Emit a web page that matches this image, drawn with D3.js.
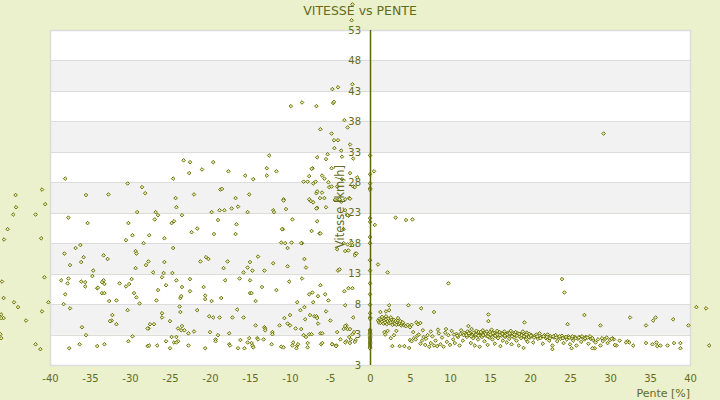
<!DOCTYPE html>
<html><head><meta charset="utf-8">
<script src="https://cdn.jsdelivr.net/npm/d3@7"></script>
<style>
html,body{margin:0;padding:0;background:#ebf0cd;}
svg{display:block;font-family:"DejaVu Sans",sans-serif;}
</style></head>
<body><svg id="c" width="720" height="400"></svg>
<script>
const chartTitle = "VITESSE vs PENTE";
const xTitle = "Pente [%]";
const yTitle = "Vitesse [km/h]";
const xTickVals = [-40,-35,-30,-25,-20,-15,-10,-5,0,5,10,15,20,25,30,35,40];
const yTickVals = [-2,3,8,13,18,23,28,33,38,43,48,53];
const yTickLabels = ["3","3","8","13","18","23","28","33","38","43","48","53"];

// [pente %, vitesse km/h] — descents
const descentPts = [
[-2.2,57.2],[-2.3,54.6],[-9.9,40.5],[-8.5,41.1],[-6.7,40.5],[-4.7,43.3],[-4.0,43.6],[-2.2,44.1],[-4.6,41.0],[-4.5,41.2],[-3.2,38.2],[-2.8,37.0],[-6.2,36.7],[-4.8,36.0],[-4.5,34.9],[-4.0,34.9],[-2.5,34.2],[-4.45,33.6],[-3.6,33.2],[-3.5,32.2],[-2.1,31.9],[-6.6,32.1],[-5.3,32.6],[-5.5,31.8],[-7.2,30.3],[-7.3,30.2],[-7.6,29.0],[-8.3,28.1],[-7.8,28.1],[-7.1,27.8],[-6.8,28.1],[-6.0,29.1],[-5.7,28.6],[-5.2,28.0],[-4.8,30.3],[-5.1,27.2],[-4.8,27.3],[-4.1,27.3],[-3.5,28.5],[-2.5,29.5],[-1.6,28.8],[-2.1,27.3],[-1.9,27.2],[-6.7,26.2],[-6.6,26.5],[-6.0,26.3],[-5.7,25.4],[-4.0,25.2],[-3.8,25.2],[-2.6,25.4],
[-38.1,28.6],[-41.0,26.8],[-44.3,25.9],[-35.5,25.9],[-32.7,26.0],[-30.3,27.8],[-28.5,27.2],[-28.1,26.2],[-24.6,28.6],[-23.3,31.6],[-22.5,31.3],[-22.6,29.5],[-21.0,30.1],[-19.6,31.3],[-17.7,29.8],[-15.6,29.1],[-14.6,28.5],[-12.9,30.3],[-12.6,32.4],[-11.7,29.8],[-12.9,29.1],[-18.7,26.8],[-18.5,26.9],[-22.0,26.0],[-24.3,25.4],[-16.8,25.4],[-15.1,26.0],[-10.8,25.2],
[-10.5,23.6],[-9.7,21.9],[-10.9,20.3],[-7.3,20.0],[-6.6,21.6],[-7.6,25.2],[-7.4,24.9],[-7.1,24.7],[-6.25,25.4],[-6.6,23.8],[-5.5,23.9],[-4.4,25.1],[-3.6,24.8],[-3.1,25.2],[-2.5,25.3],[-3.1,23.4],[-2.9,22.7],[-2.7,22.5],[-6.3,19.6],[-10.6,18.0],[-9.8,18.1],[-8.5,18.0],
[-3.3,20.3],[-2.8,22.6],[-4.1,17.0],[-3.3,18.0],[-2.8,17.8],[-2.3,18.1],[-2.2,17.7],[-3.1,16.7],[-2.7,16.8],[-1.8,16.3],[-1.9,16.0],[-1.7,16.3],[-4.0,13.5],[-3.8,13.7],
[-44.25,23.9],[-44.6,22.7],[-41.8,22.7],[-40.6,24.4],[-37.7,22.2],[-45.3,20.3],[-45.75,18.6],[-41.1,18.8],[-35.3,21.3],[-29.1,23.1],[-30.2,21.3],[-26.8,23.1],[-26.5,22.6],[-26.9,21.9],[-24.2,23.9],[-23.5,22.6],[-24.8,21.3],[-24.5,21.6],[-19.8,23.1],[-18.8,23.4],[-18.2,23.4],[-17.3,23.7],[-16.5,24.0],[-15.3,23.1],[-12.1,23.4],[-12.0,23.1],[-10.8,25.0],[-6.7,23.7],[-19.0,21.8],[-16.7,21.1],[-16.8,19.5],[-11.0,20.3],[-6.2,19.6],
[-38.2,16.3],[-36.8,17.2],[-36.2,17.7],[-36.1,14.9],[-35.8,15.7],[-37.5,14.4],[-34.6,13.5],[-34.7,12.6],[-33.3,16.0],[-32.8,15.4],[-30.5,18.5],[-29.7,19.3],[-29.3,16.7],[-29.2,16.3],[-28.3,18.0],[-27.6,19.3],[-27.7,15.0],[-28.0,14.4],[-29.3,13.9],[-27.1,13.2],[-25.7,18.8],[-24.6,17.2],[-25.7,14.9],[-25.8,13.1],[-24.7,13.1],[-22.3,19.8],[-21.6,20.4],[-21.2,15.0],[-20.5,15.7],[-20.2,15.4],[-19.5,19.5],[-17.8,15.0],[-18.3,13.9],[-15.8,13.2],[-15.0,14.9],[-15.3,14.0],[-14.7,13.5],[-14.0,15.8],[-13.2,13.5],[-12.1,14.7],[-10.3,17.2],[-10.3,14.2],[-11.1,18.1],[-8.6,18.0],[-8.2,15.4],[-8.0,14.0],[-8.5,12.2],[-10.1,11.7],[-11.7,10.3],[-13.5,10.8],[-15.0,9.8],[-14.8,9.8],[-14.3,8.5],[-15.0,11.9],[-16.3,12.2],[-18.1,11.9],[-18.6,9.0],[-20.8,10.8],[-20.6,9.4],[-20.6,8.8],[-19.8,8.5],[-22.5,12.1],[-22.5,10.1],[-23.5,10.8],[-23.7,9.0],[-23.6,9.3],[-23.8,7.6],[-23.7,6.7],[-24.2,11.9],[-25.5,11.1],[-26.5,10.3],[-26.7,8.6],[-26.0,12.4],[-26.0,6.5],[-26.0,5.8],[-25.0,5.2],[-27.5,4.7],[-27.0,4.7],[-27.7,4.0],[-29.5,9.8],[-29.2,9.1],[-28.8,8.1],[-29.8,12.1],[-30.1,11.3],[-30.5,10.9],[-31.3,11.4],[-31.7,8.6],[-32.6,8.5],[-33.5,9.8],[-33.2,9.8],[-34.1,10.6],[-33.3,11.9],[-33.5,11.6],[-33.2,11.3],[-34.0,10.7],[-35.6,11.6],[-35.6,10.9],[-36.1,11.7],[-37.7,12.2],[-37.8,11.4],[-38.1,9.6],[-38.3,8.0],[-37.5,7.3],[-38.6,11.9],[-40.7,12.4],[-40.2,8.3],[-41.0,6.8],[-46.0,11.7],[-45.8,9.0],[-44.5,8.3],[-44.0,7.5],[-45.8,5.7],[-46.1,6.3],[-46.1,5.7],[-43.0,5.3],[-46.2,3.05],[-46.1,2.4],[-41.8,1.4],[-41.2,0.6],
[-30.3,7.0],[-32.2,6.2],[-32.3,5.3],[-32.5,5.2],[-31.7,4.7],[-36.0,4.2],[-35.5,2.9],[-36.3,1.4],[-37.6,0.75],[-34.1,1.1],[-33.2,1.4],[-30.2,1.9],[-29.7,2.7],[-27.8,4.0],[-27.8,1.1],[-27.6,1.2],[-26.6,1.2],[-25.5,1.9],[-25.0,0.75],[-24.8,2.6],[-24.2,2.6],[-24.5,1.7],[-24.0,1.9],[-24.2,1.7],[-24.0,4.0],[-23.5,4.4],[-23.2,3.7],[-23.6,3.7],[-22.7,3.2],[-22.0,3.5],[-22.7,1.2],[-21.6,7.0],[-20.6,0.75],[-20.1,6.0],[-19.6,5.8],[-18.8,5.8],[-20.0,3.4],[-19.3,2.2],[-19.3,1.9],[-19.0,2.9],[-17.6,3.2],[-17.6,1.4],[-17.5,1.2],[-17.2,5.8],[-16.6,7.1],[-16.2,2.1],[-16.5,0.75],[-15.8,5.8],[-15.7,0.75],[-15.3,1.7],[-15.1,2.4],[-14.8,1.6],[-14.7,1.2],[-14.6,0.9],[-14.3,4.5],[-14.1,2.4],[-14.0,2.2],[-13.3,2.2],[-13.2,4.2],[-13.1,4.0],[-13.1,3.7],[-12.3,1.4],[-12.2,3.4],[-12.2,3.05],[-11.3,4.5],[-11.1,1.0],[-10.8,0.9],[-10.7,5.7],[-10.3,4.8],[-10.0,4.5],[-10.0,6.2],[-9.6,1.7],[-9.7,1.2],[-9.3,4.0],[-9.2,0.75],[-9.1,1.2],[-9.0,1.4],[-9.1,8.3],[-8.7,7.0],[-8.6,3.9],[-8.2,7.5],[-8.3,2.9],[-8.0,2.6],[-8.1,5.5],[-7.8,1.6],[-7.8,0.9],[-7.6,3.05],[-7.3,3.05],[-7.5,6.2],[-7.6,9.6],[-7.2,9.9],[-7.1,8.3],[-6.96,6.0],[-6.7,6.0],[-6.6,5.7],[-6.5,4.8],[-6.2,11.1],[-6.5,9.3],[-6.2,3.2],[-5.96,3.2],[-6.1,1.4],[-5.96,1.6],[-5.6,9.6],[-5.5,6.8],[-5.2,8.6],[-4.96,5.3],[-4.7,1.4],[-4.2,1.2],[-4.1,3.4],[-3.2,10.1],[-3.1,7.8],[-2.7,10.6],[-2.2,10.6],[-3.7,2.2],[-2.96,4.5],[-3.1,4.4],[-3.3,3.9],[-2.8,3.9],[-2.5,3.9],[-2.2,3.05],[-2.0,3.4],[-1.8,2.1],[-2.5,1.6],[-2.96,1.9],[-3.1,1.7],[-2.6,2.6],[-2.1,5.8],[-2.4,2.2],[-1.9,1.8],[-4.25,1.1],[-4.75,1.4]
];

// points sitting on the zero-slope line
const flatPts = [
[0,32.4],[0,29.3],[0,27.8],[0,27.0],[0,26.8],[0,22.1],[0,21.5],[0,19.0],[0,18.0],[0,15.2],[0,13.5],[0,11.4],[0,9.6],[0,7.9],[0,6.5],[0,5.8],[0,5.6],[0,3.8],[0,3.6],[0,3.4],[0,3.2],[0,3.0],[0,2.7],[0,2.5],[0,2.3],[0,2.1],[0,1.9],[0,1.7],[0,1.5],[0,1.3],[0,1.1],[0,0.9],[0,0.75]
];

// climbs — sparse points
const climbPts = [
[0.5,29.8],[3.2,22.2],[4.5,21.8],[5.3,21.9],[0.6,21.0],[1.0,14.5],[2.2,13.2],[9.8,11.4],[24.0,12.1],[24.3,9.9],[29.2,36.0],
[4.8,7.8],[2.4,7.8],[6.4,7.3],[8.0,6.7],[1.3,6.7],[2.0,6.8],[2.4,7.0],[14.8,6.3],[14.8,5.2],[19.3,5.0],[26.8,6.2],[28.8,4.5],[32.5,5.8],[24.7,4.7],[34.5,4.5],[35.4,5.3],[35.7,5.8],[37.9,5.5],[39.8,4.5],[40.8,7.5],[42.0,7.3],[42.4,1.2],[22.8,0.6],[25.2,0.75],[28.1,0.75],[27.8,0.75],[30.8,1.2],[32.9,1.2],[34.5,1.6],[35.3,1.4],[35.8,1.7],[35.9,1.1],[36.3,1.2],[37.2,1.2],[38.0,1.6],[38.8,1.6],[38.8,0.75],[32.2,1.9],[32.4,1.7],[32.0,1.7],[30.5,2.2]
];

// climbs — dense band
const climbBand = [
[1.0,5.3],[1.1,5.0],[1.2,5.6],[1.3,4.9],[1.4,5.4],[1.5,5.1],[1.6,5.7],[1.7,4.8],[1.8,5.3],[1.9,5.0],[2.0,5.5],[2.1,4.7],[2.2,5.2],[2.3,5.6],[2.4,4.9],[2.5,5.3],[2.6,5.0],[2.7,5.5],[2.8,4.6],[2.9,5.1],[3.0,5.4],[3.1,4.8],[3.2,5.2],[3.3,4.6],[3.4,5.0],[3.5,5.3],[3.6,4.7],[3.7,4.9],[3.8,5.2],[3.9,4.5],[4.0,4.8],[4.1,5.0],[4.3,4.5],[4.5,4.4],[4.7,4.6],[5.0,4.2],[1.5,5.9],[2.0,6.0],[2.6,5.8],[3.5,5.7],[5.8,5.0],[6.0,4.7],[6.3,4.9],[5.2,4.6],
[1.8,3.4],[1.9,3.0],[2.2,3.6],[2.6,2.4],[3.0,2.9],[3.3,3.6],[2.8,1.1],[3.7,1.1],[4.3,1.1],[4.9,0.8],[5.0,2.1],[5.2,1.9],[5.5,2.4],[5.7,2.2],[5.9,2.8],[6.1,3.0],[6.3,1.5],[6.5,2.0],[6.7,2.6],[6.9,1.3],[7.0,2.3],[7.2,2.9],[7.4,1.0],[7.6,1.6],[7.8,2.7],[8.0,1.2],[8.2,2.0],[8.4,1.1],[8.6,3.2],[8.8,1.4],[9.0,2.5],[9.2,1.0],[9.4,3.3],[9.6,1.8],[9.8,2.9],[10.0,1.3],[10.2,3.6],[10.4,2.2],[10.6,1.6],[10.8,3.1],[5.4,3.4],[6.6,3.7],[7.6,3.5],[8.5,3.8],[9.5,3.9],[11.0,2.6],[11.2,1.2],[11.4,3.7],[11.6,2.0],[11.8,3.3],
[12.0,3.1],[12.1,2.6],[12.2,3.5],[12.3,4.4],[12.4,2.9],[12.5,3.3],[12.6,1.6],[12.7,3.9],[12.8,3.0],[12.9,2.4],[13.0,3.2],[13.1,1.2],[13.2,2.8],[13.3,3.6],[13.4,3.0],[13.5,2.2],[13.6,3.4],[13.7,1.0],[13.8,2.9],[13.9,3.2],[14.0,2.6],[14.1,3.7],[14.2,3.0],[14.3,1.9],[14.4,3.3],[14.5,2.8],[14.6,3.5],[14.7,1.3],[14.8,3.1],[14.9,2.5],[15.0,3.4],[15.1,2.9],[15.2,3.8],[15.3,2.2],[15.4,3.0],[15.5,3.3],[15.6,1.5],[15.7,2.7],[15.8,3.1],[15.9,3.6],[16.0,2.4],[16.1,3.0],[16.2,3.4],[16.3,1.1],[16.4,2.8],[16.5,3.2],[16.6,2.0],[16.7,3.0],[16.8,3.5],[16.9,2.6],[17.0,3.1],[17.1,1.7],[17.2,2.9],[17.3,3.3],[17.4,2.3],[17.5,3.0],[17.6,3.6],[17.7,1.4],[17.8,2.8],[17.9,3.2],[18.0,2.5],[18.1,3.0],[18.2,3.4],[18.3,2.0],[18.4,2.9],[18.5,3.2],[18.6,1.2],[18.7,2.7],[18.8,3.1],[18.9,2.4],[19.0,2.9],[19.1,3.5],[19.2,0.8],[19.3,2.6],[19.4,3.0],[19.5,2.2],[19.6,3.3],[19.7,1.8],[19.8,2.8],[19.9,3.1],[20.0,2.5],[20.2,2.9],[20.4,1.7],[20.6,2.7],[20.8,3.0],[21.0,2.3],[21.2,3.2],[21.4,2.6],[21.6,1.5],[21.8,2.9],[22.0,2.4],[22.2,3.0],[22.4,2.0],[22.6,2.7],[22.8,1.2],[23.0,2.5],[23.2,2.9],[23.4,1.9],[23.6,2.6],[23.8,2.3],[24.0,2.8],[24.2,1.6],[24.4,2.5],[24.6,2.2],[24.8,2.7],[25.0,1.4],[25.2,2.4],[25.4,2.0],[25.6,2.6],[25.8,1.2],[26.0,2.3],[26.2,2.6],[26.4,1.8],[26.6,2.5],[26.8,2.2],[27.0,2.6],[27.3,1.5],[27.6,2.3],[27.9,2.1],[28.2,1.7],[28.5,2.2],[28.8,1.2],[29.1,1.9],[29.4,2.3],[29.7,1.6],[30.0,2.1],[30.3,2.4],[30.6,1.3],[31.2,2.0],
[10.5,3.0],[10.9,2.8],[11.3,3.1],[11.7,2.9],[12.05,2.9],[12.35,3.2],[12.65,2.7],[12.95,3.3],[13.25,3.0],[13.55,2.8],[13.85,3.4],[14.15,2.9],[14.45,3.1],[14.75,2.7],[15.05,3.0],[15.35,3.2],[15.65,2.8],[15.95,3.0],[16.25,2.9],[16.55,3.1],[16.85,2.8],[17.15,3.0],[17.45,3.2],[17.75,2.7],[18.05,3.0],[18.35,2.8],[18.65,3.1],[18.95,2.9],[19.25,2.7],[19.55,3.0],[19.85,2.6],[20.1,2.8],[20.5,2.5],[20.9,2.7],[21.3,2.4],[21.7,2.7],[22.1,2.6],[22.5,2.4],[22.9,2.7],[23.3,2.5],[23.7,2.7],[24.1,2.4],[24.5,2.6],[24.9,2.5],[25.3,2.7],[25.7,2.4],[26.1,2.5],[26.5,2.7],[26.9,2.4],[27.2,2.5],[27.5,2.7],[27.8,2.4],[29.0,2.4],[29.6,2.5],[30.2,2.3]
];

const svg = d3.select("#c");
const W = 720, H = 400;
const m = {l:50, r:30, t:30, b:35};
const x = d3.scaleLinear().domain([-40,40]).range([m.l, W-m.r]);
const y = d3.scaleLinear().domain([-2,53]).range([H-m.b, m.t]);
const txt = "#636b1d";

svg.append("rect").attr("width",W).attr("height",H).attr("fill","#ebf0cd");

// bands
const bands = d3.pairs(yTickVals);
svg.append("g").selectAll("rect").data(bands).join("rect")
  .attr("x", x(-40)).attr("width", x(40)-x(-40))
  .attr("y", d => y(d[1])).attr("height", d => y(d[0]) - y(d[1]))
  .attr("fill", (d,i) => ((bands.length-1-i) % 2 === 0) ? "#ffffff" : "#f2f2f2");

// grid
svg.append("g").selectAll("line").data(yTickVals).join("line")
  .attr("x1", x(-40)).attr("x2", x(40))
  .attr("y1", d => Math.round(y(d))+0.5).attr("y2", d => Math.round(y(d))+0.5)
  .attr("stroke","#dcdcdc").attr("stroke-width",1);
svg.append("rect").attr("x", x(-40)+0.5).attr("y", y(53)+0.5)
  .attr("width", x(40)-x(-40)).attr("height", y(-2)-y(53))
  .attr("fill","none").attr("stroke","#dcdcdc").attr("stroke-width",1.5);

// x tick labels
const xAxis = d3.axisBottom(x).tickValues(xTickVals).tickSize(0).tickPadding(10).tickFormat(d3.format("d"));
const gx = svg.append("g").attr("transform", `translate(0,${y(-2)})`).call(xAxis);
gx.select(".domain").remove();
gx.selectAll("text").attr("fill", txt).attr("font-size", 10).attr("font-family","DejaVu Sans").text(d => String(d));

// y tick labels
const yAxis = d3.axisLeft(y).tickValues(yTickVals).tickSize(0).tickPadding(9)
  .tickFormat((d,i) => yTickLabels[i]);
const gy = svg.append("g").attr("transform", `translate(${x(0)},0)`).call(yAxis);
gy.select(".domain").remove();
gy.selectAll("text").attr("fill", txt).attr("font-size", 10).attr("font-family","DejaVu Sans");

// points
const allPts = descentPts.concat(flatPts, climbPts, climbBand);
const diamond = "M0,-1.8L1.8,0L0,1.8L-1.8,0Z";
svg.append("g").selectAll("path").data(allPts).join("path")
  .attr("d", diamond)
  .attr("transform", d => `translate(${x(d[0])},${y(d[1])})`)
  .attr("fill", "#e6eaa8").attr("stroke", "#5d6600").attr("stroke-width", 0.9);

// zero axis line
svg.append("line").attr("x1", x(0)+0.5).attr("x2", x(0)+0.5)
  .attr("y1", y(53)).attr("y2", y(-2))
  .attr("stroke", "#5d6600").attr("stroke-width", 1.5);

// titles
svg.append("text").attr("x", 360).attr("y", 15).attr("text-anchor","middle")
  .attr("fill", txt).attr("font-size", 12.5).text(chartTitle);
svg.append("text").attr("transform", `translate(${x(0)-26},${y(24)}) rotate(-90)`)
  .attr("text-anchor","middle").attr("fill", txt).attr("font-size", 11.5).text(yTitle);
svg.append("text").attr("x", x(40)).attr("y", 397).attr("text-anchor","end")
  .attr("fill", txt).attr("font-size", 11).text(xTitle);
</script></body></html>
